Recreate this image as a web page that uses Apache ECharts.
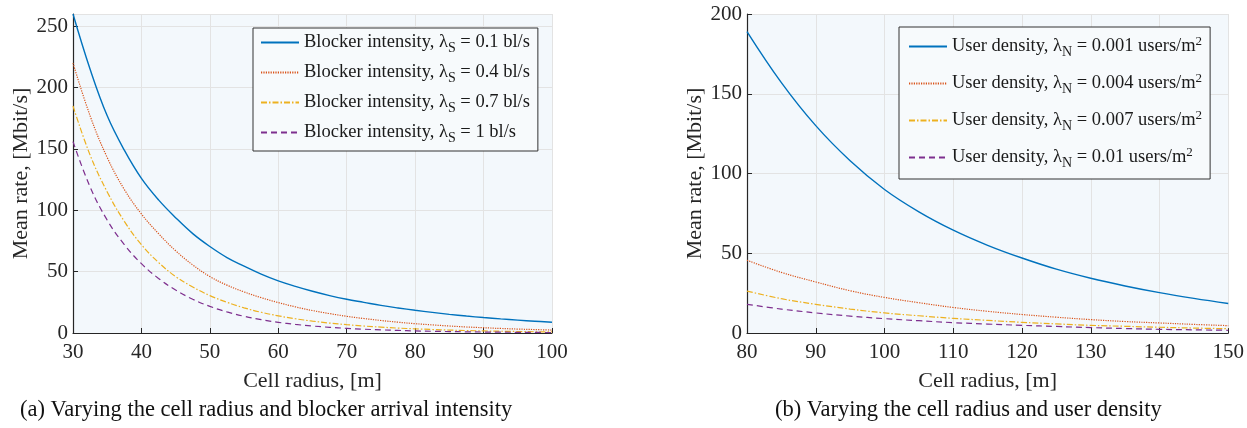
<!DOCTYPE html>
<html>
<head>
<meta charset="utf-8">
<script src="https://cdn.jsdelivr.net/npm/echarts@6/dist/echarts.min.js"></script>
<style>
html,body{margin:0;padding:0;background:#fff;}
#c{width:1247px;height:428px;}
</style>
</head>
<body>
<div id="c"></div>
<script>
// ---- data ----
const radiusA = [30, 32.5, 35, 37.5, 40, 42.5, 45, 47.5, 50, 52.5, 55, 57.5, 60, 62.5, 65, 67.5, 70, 72.5, 75, 77.5, 80, 82.5, 85, 87.5, 90, 92.5, 95, 97.5, 100];
const blockerLambdas = ['0.1', '0.4', '0.7', '1'];
const rateA_01 = [260, 215, 177, 149, 126, 108.5, 94, 81, 70.5, 61.5, 54.5, 48, 42.5, 38, 34, 30.5, 27.5, 25, 22.5, 20.4, 18.5, 16.8, 15.2, 13.8, 12.6, 11.5, 10.5, 9.6, 8.8];
const rateA_04 = [220, 177, 143, 117, 97, 81, 67, 55.5, 46, 39, 33.5, 28.8, 24.8, 21.3, 18.3, 15.8, 13.6, 11.8, 10.2, 8.8, 7.6, 6.6, 5.7, 4.9, 4.3, 3.7, 3.2, 2.8, 2.4];
const rateA_07 = [185, 145, 115, 91, 72, 57.5, 46, 37.5, 30.5, 25, 20.5, 16.9, 14, 11.6, 9.7, 8.1, 6.8, 5.7, 4.8, 4.0, 3.4, 2.85, 2.4, 2.0, 1.7, 1.45, 1.2, 1.0, 0.85];
const rateA_1  = [156, 119, 92, 72, 56.5, 44.5, 35, 27.5, 21.7, 17.2, 13.6, 10.9, 8.7, 7.0, 5.7, 4.65, 3.8, 3.1, 2.55, 2.1, 1.7, 1.4, 1.15, 0.95, 0.8, 0.67, 0.55, 0.46, 0.38];

const radiusB = [80, 85, 90, 95, 100, 105, 110, 115, 120, 125, 130, 135, 140, 145, 150];
const densityLambdas = ['0.001', '0.004', '0.007', '0.01'];
const rateB_0001 = [189, 157, 130, 108, 90, 76, 64.5, 55, 47, 40, 34.3, 29.5, 25.3, 21.7, 18.5];
const rateB_0004 = [45.6, 38, 32, 26.5, 22.3, 19, 16, 13.6, 11.6, 9.9, 8.4, 7.2, 6.3, 5.4, 4.6];
const rateB_0007 = [26.3, 21.5, 18, 15, 12.6, 10.8, 9.2, 7.9, 6.7, 5.7, 4.8, 4.2, 3.6, 3.1, 2.7];
const rateB_001  = [18, 15, 12.6, 10.6, 9, 7.7, 6.5, 5.6, 4.8, 4.1, 3.4, 2.8, 2.3, 2, 1.7];

const xTicksA = [30, 40, 50, 60, 70, 80, 90, 100];
const yTicksA = [0, 50, 100, 150, 200, 250];
const xTicksB = [80, 90, 100, 110, 120, 130, 140, 150];
const yTicksB = [0, 50, 100, 150, 200];

// ---- styles ----
const FONT = '"Liberation Serif", "DejaVu Serif", serif';
const colors = ['#0072BD', '#D95319', '#EDB120', '#7E2F8E'];
const lineTypes = ['solid', [1.2, 1.2], [6, 2, 1.5, 2], [6, 4]];
const plotBg = '#F3F8FC';
const gridColor = '#E3E3E3';
const axisColor = '#262626';
const textColor = '#262626';

const seriesA = [rateA_01, rateA_04, rateA_07, rateA_1];
const seriesB = [rateB_0001, rateB_0004, rateB_0007, rateB_001];
const namesA = blockerLambdas.map(l => 'Blocker intensity, λS = ' + l + ' bl/s');
const namesB = densityLambdas.map(l => 'User density, λN = ' + l + ' users/m2');

function pairs(xs, ys) { return xs.map((x, i) => [x, ys[i]]); }

const series = [];
function addSeries(names, data, xs, idx) {
  data.forEach((ys, i) => series.push({
    name: names[i], type: 'line', xAxisIndex: idx, yAxisIndex: idx,
    data: pairs(xs, ys), smooth: 0.4, showSymbol: false, symbol: 'none',
    lineStyle: { color: colors[i], width: i === 0 ? 1.4 : 1.2, type: lineTypes[i] },
    itemStyle: { color: colors[i] }, silent: true, animation: false
  }));
}
addSeries(namesA, seriesA, radiusA, 0);
addSeries(namesB, seriesB, radiusB, 1);

function xAxis(idx, min, max, ticks, name) {
  return {
    type: 'value', gridIndex: idx, min, max, interval: ticks[1] - ticks[0],
    name, nameLocation: 'middle', nameGap: 37,
    nameTextStyle: { fontFamily: FONT, fontSize: 22, color: textColor },
    axisLine: { show: true, onZero: false, lineStyle: { color: axisColor, width: 1.2 } },
    axisTick: { show: true, inside: true, length: 5, lineStyle: { color: axisColor } },
    axisLabel: { fontFamily: FONT, fontSize: 21, color: textColor, margin: 9 },
    splitLine: { show: true, lineStyle: { color: gridColor, width: 1 } }
  };
}
function yAxis(idx, min, max, ticks, name) {
  return {
    type: 'value', gridIndex: idx, min, max, interval: ticks[1] - ticks[0],
    name, nameLocation: 'middle', nameGap: 41,
    nameTextStyle: { fontFamily: FONT, fontSize: 22, color: textColor },
    axisLine: { show: true, lineStyle: { color: axisColor, width: 1.2 } },
    axisTick: { show: true, inside: true, length: 5, lineStyle: { color: axisColor } },
    axisLabel: { fontFamily: FONT, fontSize: 21, color: textColor, margin: 5,
                 showMaxLabel: max === ticks[ticks.length - 1] },
    splitLine: { show: true, lineStyle: { color: gridColor, width: 1 } }
  };
}

const legendRich = {
  t: { fontFamily: FONT, fontSize: 18.5, color: '#1a1a1a' },
  s: { fontFamily: FONT, fontSize: 14, color: '#1a1a1a', padding: [11, 0, 0, 0] },
  p: { fontFamily: FONT, fontSize: 13, color: '#1a1a1a', padding: [0, 0, 10, 0] }
};
function legend(names, left, top, gap, pad, fmt) {
  return {
    data: names, orient: 'vertical', left, top,
    backgroundColor: '#F7FAFC', borderColor: '#333', borderWidth: 1,
    padding: pad, itemWidth: 38, itemHeight: 14, itemGap: gap,
    selectedMode: false,
    itemStyle: { opacity: 0 },
    textStyle: { fontFamily: FONT, fontSize: 18.5, color: '#1a1a1a', rich: legendRich },
    formatter: fmt
  };
}

const option = {
  animation: false,
  grid: [
    { left: 73, right: 695, top: 14, bottom: 95, show: true, backgroundColor: plotBg, borderWidth: 0 },
    { left: 747, right: 14, top: 14, bottom: 95, show: true, backgroundColor: plotBg, borderWidth: 0 }
  ],
  xAxis: [xAxis(0, 30, 100, xTicksA, 'Cell radius, [m]'), xAxis(1, 80, 150, xTicksB, 'Cell radius, [m]')],
  yAxis: [yAxis(0, 0, 260, yTicksA, 'Mean rate, [Mbit/s]'), yAxis(1, 0, 200, yTicksB, 'Mean rate, [Mbit/s]')],
  legend: [
    legend(namesA, 253, 28, 8, [5, 8, 6, 7], n => {
      const l = n.split('= ')[1].replace(' bl/s', '');
      return '{t|Blocker intensity, λ}{s|S}{t| = ' + l + ' bl/s}';
    }),
    legend(namesB, 899, 27, 13, [8, 8, 9, 9], n => {
      const l = n.split('= ')[1].replace(' users/m2', '');
      return '{t|User density, λ}{s|N}{t| = ' + l + ' users/m}{p|2}';
    })
  ],
  graphic: [
    { type: 'text', left: 20, top: 399, style: { text: '(a) Varying the cell radius and blocker arrival intensity', font: '22.5px ' + FONT, fill: '#111' } },
    { type: 'text', left: 775, top: 399, style: { text: '(b) Varying the cell radius and user density', font: '22.5px ' + FONT, fill: '#111' } }
  ],
  series
};

const chart = echarts.init(document.getElementById('c'), null, { renderer: 'canvas' });
chart.setOption(option);
</script>
</body>
</html>
